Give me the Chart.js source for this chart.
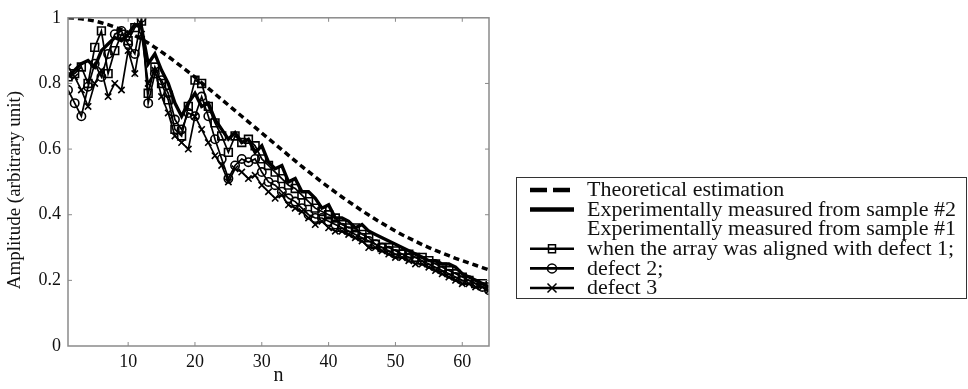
<!DOCTYPE html>
<html lang="en">
<head>
    <meta charset="UTF-8">
    <title>Amplitude vs n</title>
    <style>
        html, body { margin: 0; padding: 0; background: #fff; }
        #wrap { position: relative; width: 968px; height: 389px; }
    </style>
    <script src="https://cdn.jsdelivr.net/npm/chart.js"></script>
</head>
<body>
<div id="wrap"><canvas id="ampChart" width="968" height="389"></canvas></div>
<script>
    // Data
    const nValues = [1, 2, 3, 4, 5, 6, 7, 8, 9, 10, 11, 12, 13, 14, 15, 16, 17, 18, 19, 20, 21, 22, 23, 24, 25, 26, 27, 28, 29, 30, 31, 32,
        33, 34, 35, 36, 37, 38, 39, 40, 41, 42, 43, 44, 45, 46, 47, 48, 49, 50, 51, 52, 53, 54, 55, 56, 57, 58, 59, 60, 61, 62, 63, 64];
    const theoretical = [1.000, 0.999, 0.997, 0.994, 0.990, 0.985, 0.979, 0.972, 0.964, 0.956, 0.946, 0.935, 0.923, 0.910, 0.896, 0.882,
        0.867, 0.851, 0.835, 0.819, 0.802, 0.785, 0.768, 0.751, 0.734, 0.717, 0.700, 0.683, 0.666, 0.649, 0.632, 0.615,
        0.598, 0.581, 0.564, 0.547, 0.531, 0.515, 0.499, 0.484, 0.469, 0.454, 0.440, 0.426, 0.412, 0.399, 0.386, 0.374,
        0.362, 0.350, 0.339, 0.329, 0.319, 0.309, 0.300, 0.291, 0.283, 0.275, 0.267, 0.260, 0.253, 0.246, 0.239, 0.232];
    const sample2 = [0.82, 0.84, 0.86, 0.87, 0.85, 0.90, 0.92, 0.94, 0.93, 0.95, 0.98, 0.97, 0.86, 0.89, 0.84, 0.80,
        0.74, 0.70, 0.74, 0.77, 0.73, 0.74, 0.69, 0.66, 0.63, 0.65, 0.62, 0.63, 0.59, 0.61, 0.56, 0.54,
        0.55, 0.50, 0.51, 0.47, 0.47, 0.45, 0.42, 0.43, 0.39, 0.39, 0.38, 0.36, 0.37, 0.35, 0.34, 0.33,
        0.32, 0.31, 0.30, 0.29, 0.28, 0.27, 0.26, 0.26, 0.25, 0.25, 0.24, 0.22, 0.21, 0.20, 0.19, 0.18];
    const defect1 = [0.82, 0.83, 0.85, 0.80, 0.91, 0.96, 0.83, 0.90, 0.95, 0.93, 0.97, 0.99, 0.77, 0.85, 0.80, 0.75,
        0.66, 0.64, 0.73, 0.81, 0.80, 0.73, 0.68, 0.64, 0.59, 0.64, 0.62, 0.63, 0.61, 0.57, 0.55, 0.53,
        0.51, 0.49, 0.48, 0.46, 0.44, 0.42, 0.41, 0.40, 0.39, 0.37, 0.36, 0.36, 0.34, 0.33, 0.31, 0.30,
        0.30, 0.29, 0.28, 0.28, 0.27, 0.27, 0.26, 0.25, 0.24, 0.23, 0.22, 0.21, 0.20, 0.19, 0.19, 0.18];
    const defect2 = [0.78, 0.74, 0.70, 0.79, 0.86, 0.82, 0.89, 0.95, 0.96, 0.92, 0.89, 1.00, 0.74, 0.83, 0.81, 0.77,
        0.69, 0.66, 0.71, 0.70, 0.76, 0.70, 0.63, 0.57, 0.51, 0.55, 0.57, 0.56, 0.57, 0.53, 0.50, 0.49,
        0.47, 0.45, 0.44, 0.42, 0.40, 0.39, 0.39, 0.38, 0.37, 0.36, 0.35, 0.34, 0.33, 0.32, 0.31, 0.30,
        0.29, 0.28, 0.28, 0.27, 0.27, 0.26, 0.25, 0.24, 0.23, 0.22, 0.21, 0.20, 0.20, 0.19, 0.18, 0.17];
    const defect3 = [0.85, 0.82, 0.78, 0.73, 0.80, 0.84, 0.76, 0.80, 0.78, 0.90, 0.83, 0.95, 0.80, 0.84, 0.76, 0.71,
        0.64, 0.62, 0.60, 0.70, 0.66, 0.62, 0.58, 0.55, 0.50, 0.54, 0.53, 0.51, 0.52, 0.49, 0.47, 0.45,
        0.46, 0.43, 0.42, 0.41, 0.39, 0.37, 0.38, 0.36, 0.35, 0.35, 0.34, 0.33, 0.32, 0.30, 0.30, 0.29,
        0.28, 0.27, 0.27, 0.26, 0.25, 0.25, 0.24, 0.23, 0.22, 0.21, 0.20, 0.19, 0.19, 0.18, 0.18, 0.17];
    const xTicks = [10, 20, 30, 40, 50, 60];
    const yTicks = [0, 0.2, 0.4, 0.6, 0.8, 1];
    const legendLabels = [
        'Theoretical estimation',
        'Experimentally measured from sample #2',
        'Experimentally measured from sample #1',
        'when the array was aligned with defect 1;',
        'defect 2;',
        'defect 3'
    ];

    const serif = '"Liberation Serif", "Times New Roman", serif';
    const ink = '#111';
    const frame = '#8a8a8a';

    const pts = arr => nValues.map((n, i) => ({ x: n, y: arr[i] }));

    // Box around plot, inward ticks on all four sides, rotated y title
    const boxPlugin = {
        id: 'box',
        afterDraw(chart) {
            const { ctx, chartArea: a, scales } = chart;
            ctx.save();
            ctx.strokeStyle = frame;
            ctx.lineWidth = 1.5;
            ctx.strokeRect(a.left, a.top, a.right - a.left, a.bottom - a.top);
            ctx.lineWidth = 1;
            ctx.beginPath();
            xTicks.forEach(v => {
                const px = scales.x.getPixelForValue(v);
                ctx.moveTo(px, a.bottom); ctx.lineTo(px, a.bottom - 4);
                ctx.moveTo(px, a.top); ctx.lineTo(px, a.top + 4);
            });
            yTicks.slice(1, -1).forEach(v => {
                const py = scales.y.getPixelForValue(v);
                ctx.moveTo(a.left, py); ctx.lineTo(a.left + 4, py);
                ctx.moveTo(a.right, py); ctx.lineTo(a.right - 4, py);
            });
            ctx.stroke();

            ctx.translate(15, 190);
            ctx.rotate(-Math.PI / 2);
            ctx.font = '19px ' + serif;
            ctx.fillStyle = ink;
            ctx.textAlign = 'center';
            ctx.textBaseline = 'middle';
            ctx.fillText('Amplitude (arbitrary unit)', 0, 0);
            ctx.restore();
        }
    };

    function marker(ctx, style, x, y) {
        ctx.beginPath();
        if (style === 'rect') {
            ctx.rect(x - 3.5, y - 4, 7, 8);
        } else if (style === 'circle') {
            ctx.arc(x, y, 4.5, 0, Math.PI * 2);
        } else if (style === 'crossRot') {
            ctx.moveTo(x - 4.5, y - 4.5); ctx.lineTo(x + 4.5, y + 4.5);
            ctx.moveTo(x + 4.5, y - 4.5); ctx.lineTo(x - 4.5, y + 4.5);
        }
        ctx.stroke();
    }

    // Boxed legend to the right of the plot
    const legendPlugin = {
        id: 'sideLegend',
        afterDraw(chart) {
            const ctx = chart.ctx;
            const bx = 516, by = 177, bw = 450, bh = 121;
            const rowH = 19.6, firstRow = 190;
            ctx.save();
            ctx.strokeStyle = '#333';
            ctx.lineWidth = 1;
            ctx.strokeRect(bx + 0.5, by + 0.5, bw, bh);
            ctx.font = '20px ' + serif;
            ctx.fillStyle = ink;
            ctx.textBaseline = 'middle';
            const sets = [0, 1, null, 2, 3, 4];
            legendLabels.forEach((txt, i) => {
                const y = firstRow + i * rowH;
                const di = sets[i];
                if (di !== null) {
                    const ds = chart.data.datasets[di];
                    ctx.strokeStyle = '#000';
                    ctx.lineWidth = di < 2 ? 4.5 : 2.6;
                    ctx.setLineDash(ds.borderDash ? [17, 6] : []);
                    ctx.beginPath();
                    ctx.moveTo(530, y); ctx.lineTo(574, y);
                    ctx.stroke();
                    ctx.setLineDash([]);
                    if (ds.pointStyle && ds.pointRadius > 0) {
                        ctx.lineWidth = 1.5;
                        ctx.fillStyle = '#fff';
                        marker(ctx, ds.pointStyle, 552, y);
                        ctx.fillStyle = ink;
                    }
                }
                ctx.save();
                ctx.translate(587, y + 1);
                ctx.scale(1.1, 1);
                ctx.fillText(txt, 0, 0);
                ctx.restore();
            });
            ctx.restore();
        }
    };

    const ctx = document.getElementById('ampChart').getContext('2d');
    const ampChart = new Chart(ctx, {
        type: 'line',
        data: {
            datasets: [
                {
                    label: legendLabels[0], data: pts(theoretical),
                    borderColor: '#000', borderWidth: 3.5, borderDash: [6, 4],
                    pointRadius: 0, pointStyle: false
                },
                {
                    label: legendLabels[1], data: pts(sample2),
                    borderColor: '#000', borderWidth: 3.4, pointRadius: 0, pointStyle: false
                },
                {
                    label: legendLabels[3], data: pts(defect1),
                    borderColor: '#000', borderWidth: 1.7,
                    pointStyle: 'rect', pointRadius: 5.5, pointBorderWidth: 1.6,
                    pointBorderColor: '#000', pointBackgroundColor: 'rgba(0,0,0,0)'
                },
                {
                    label: legendLabels[4], data: pts(defect2),
                    borderColor: '#000', borderWidth: 1.7,
                    pointStyle: 'circle', pointRadius: 4.2, pointBorderWidth: 1.6,
                    pointBorderColor: '#000', pointBackgroundColor: 'rgba(0,0,0,0)'
                },
                {
                    label: legendLabels[5], data: pts(defect3),
                    borderColor: '#000', borderWidth: 1.7,
                    pointStyle: 'crossRot', pointRadius: 4.5, pointBorderWidth: 1.6,
                    pointBorderColor: '#000', pointBackgroundColor: 'rgba(0,0,0,0)'
                }
            ]
        },
        options: {
            responsive: false,
            animation: false,
            devicePixelRatio: 1,
            layout: { padding: { top: 13, right: 479, left: 0, bottom: 0 } },
            plugins: { legend: { display: false }, tooltip: { enabled: false } },
            elements: { line: { tension: 0 } },
            scales: {
                x: {
                    type: 'linear', min: 1, max: 64,
                    grid: { display: false, drawTicks: false },
                    border: { display: false },
                    afterBuildTicks: s => { s.ticks = xTicks.map(v => ({ value: v })); },
                    afterFit: s => { s.height = 43; },
                    ticks: { color: ink, font: { family: serif, size: 18 }, padding: 5, maxRotation: 0 },
                    title: { display: true, text: 'n', color: ink, font: { family: serif, size: 20 }, padding: { top: 0, bottom: 1 } }
                },
                y: {
                    min: 0, max: 1,
                    grid: { display: false, drawTicks: false },
                    border: { display: false },
                    afterBuildTicks: s => { s.ticks = yTicks.map(v => ({ value: v })); },
                    afterFit: s => { s.width = 68; },
                    ticks: {
                        color: ink, font: { family: serif, size: 18 }, padding: 7,
                        callback: v => String(+v.toFixed(1))
                    },
                    title: { display: false }
                }
            }
        },
        plugins: [boxPlugin, legendPlugin]
    });
</script>
</body>
</html>
